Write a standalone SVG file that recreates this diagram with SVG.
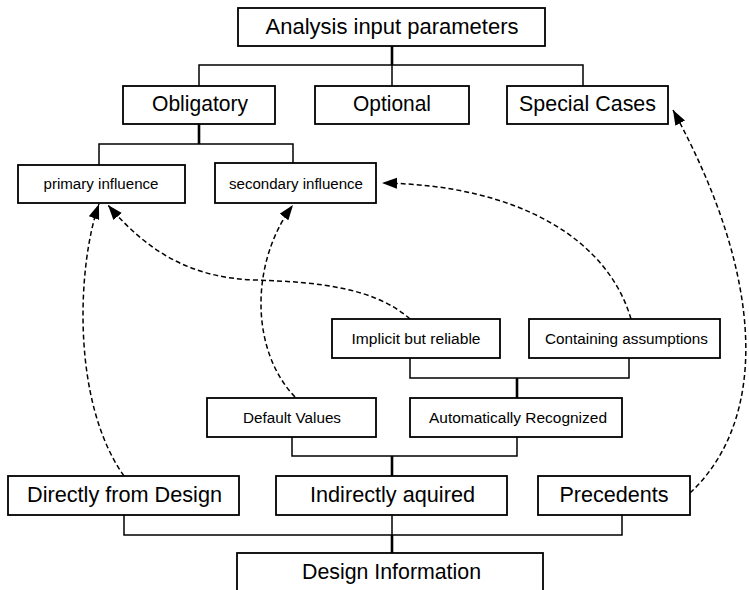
<svg xmlns="http://www.w3.org/2000/svg" width="749" height="590" viewBox="0 0 749 590">
<style>
.box{fill:#fff;stroke:#000;stroke-width:1.8}
.big{font-family:"Liberation Sans",Arial,sans-serif;font-size:22.5px;fill:#000;text-anchor:middle}
.small{font-family:"Liberation Sans",Arial,sans-serif;font-size:15.5px;fill:#000;text-anchor:middle}
.br{fill:none;stroke:#000;stroke-width:1.5}
.tr{fill:none;stroke:#000;stroke-width:2.6}
.dash{fill:none;stroke:#000;stroke-width:1.5;stroke-dasharray:5,3}
</style>
<defs>
<marker id="ah" markerUnits="userSpaceOnUse" markerWidth="16" markerHeight="12" refX="15" refY="5.5" orient="auto">
<path d="M0,0 L15,5.5 L0,11 z" fill="#000"/>
</marker>
</defs>
<rect width="749" height="590" fill="#fff"/>
<g id="connectors">
<path class="tr" d="M392 46 V65"/>
<path class="br" d="M199 86 V65 H583 V86 M392 65 V86"/>
<path class="tr" d="M199 124 V144"/>
<path class="br" d="M99 165 V144 H293 V163"/>
<path class="br" d="M410 358 V378 H629 V358"/>
<path class="tr" d="M517 378 V398"/>
<path class="br" d="M292 437 V456 H517 V437"/>
<path class="tr" d="M392 456 V476"/>
<path class="br" d="M124 515 V535 H622 V515 M392 515 V535"/>
<path class="tr" d="M392 535 V553"/>
<path class="dash" marker-end="url(#ah)" d="M124 476 C70 400, 78 262, 99 204"/>
<path class="dash" marker-end="url(#ah)" d="M410 319 C375 288, 320 282, 255 280 C195 278, 150 255, 108 205"/>
<path class="dash" marker-end="url(#ah)" d="M295 397 C250 350, 250 262, 293 205"/>
<path class="dash" marker-end="url(#ah)" d="M631 319 C608 240, 520 185, 382 183"/>
<path class="dash" marker-end="url(#ah)" d="M690 493 C768 420, 766 280, 673 110"/>
</g>
<g id="analysis"><rect class="box" x="238" y="8" width="307" height="38"/><text class="big" x="392" y="34" textLength="253" lengthAdjust="spacingAndGlyphs">Analysis input parameters</text></g>
<g id="obligatory"><rect class="box" x="123" y="86" width="152" height="38"/><text class="big" x="200" y="111" textLength="96" lengthAdjust="spacingAndGlyphs">Obligatory</text></g>
<g id="optional"><rect class="box" x="315" y="86" width="154" height="38"/><text class="big" x="392" y="111" textLength="78" lengthAdjust="spacingAndGlyphs">Optional</text></g>
<g id="special"><rect class="box" x="507" y="86" width="161" height="38"/><text class="big" x="587.5" y="111" textLength="137" lengthAdjust="spacingAndGlyphs">Special Cases</text></g>
<g id="primary"><rect class="box" x="18" y="165" width="167" height="38"/><text class="small" x="101" y="189" textLength="115" lengthAdjust="spacingAndGlyphs">primary influence</text></g>
<g id="secondary"><rect class="box" x="215" y="163" width="161" height="40"/><text class="small" x="296" y="189" textLength="134" lengthAdjust="spacingAndGlyphs">secondary influence</text></g>
<g id="implicit"><rect class="box" x="332" y="319" width="168" height="39"/><text class="small" x="416" y="344" textLength="129" lengthAdjust="spacingAndGlyphs">Implicit but reliable</text></g>
<g id="containing"><rect class="box" x="529" y="319" width="191" height="39"/><text class="small" x="626.5" y="344" textLength="163" lengthAdjust="spacingAndGlyphs">Containing assumptions</text></g>
<g id="default"><rect class="box" x="207" y="398" width="169" height="39"/><text class="small" x="292" y="423" textLength="98" lengthAdjust="spacingAndGlyphs">Default Values</text></g>
<g id="auto"><rect class="box" x="410" y="398" width="212" height="39"/><text class="small" x="518" y="423" textLength="178" lengthAdjust="spacingAndGlyphs">Automatically Recognized</text></g>
<g id="directly"><rect class="box" x="8" y="476" width="231" height="39"/><text class="big" x="124.5" y="502" textLength="195" lengthAdjust="spacingAndGlyphs">Directly from Design</text></g>
<g id="indirectly"><rect class="box" x="276" y="476" width="231" height="39"/><text class="big" x="392.5" y="502" textLength="165" lengthAdjust="spacingAndGlyphs">Indirectly aquired</text></g>
<g id="precedents"><rect class="box" x="538" y="476" width="152" height="39"/><text class="big" x="614" y="502" textLength="109" lengthAdjust="spacingAndGlyphs">Precedents</text></g>
<g id="designinfo"><rect class="box" x="237" y="553" width="306" height="50"/><text class="big" x="391.5" y="579" textLength="179" lengthAdjust="spacingAndGlyphs">Design Information</text></g>
</svg>
